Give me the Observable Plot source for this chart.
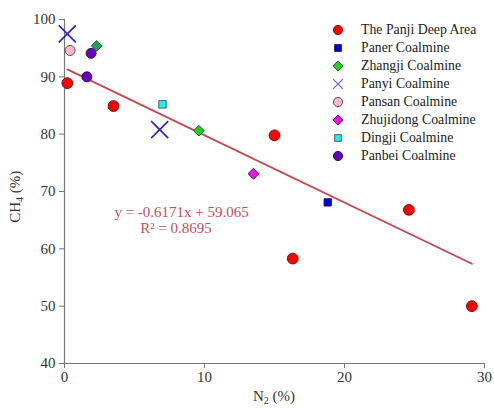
<!DOCTYPE html>
<html>
<head>
<meta charset="utf-8">
<script src="https://cdn.jsdelivr.net/npm/d3@7"></script>
<script src="https://cdn.jsdelivr.net/npm/@observablehq/plot@0.6"></script>
<style>
  html, body { margin: 0; padding: 0; background: #fff; }
  #wrap { position: relative; width: 494px; height: 408px; font-family: "Liberation Serif", "Times New Roman", serif; }
  #legend { position: absolute; left: 330px; top: 21px; font-size: 13.8px; color: #222; font-family: "Liberation Serif", serif; }
  #legend .row { display: flex; align-items: center; height: 18px; }
  #legend svg { width: 16px; height: 16px; margin-right: 15px; }
</style>
</head>
<body>
<div id="wrap"></div>
<script>
// ---- data ----
const seriesNames = ["The Panji Deep Area", "Paner Coalmine", "Zhangji Coalmine", "Panyi Coalmine",
  "Pansan Coalmine", "Zhujidong Coalmine", "Dingji Coalmine", "Panbei Coalmine"];
const panjiN2 = [0.2, 3.5, 15.0, 16.3, 24.6, 29.1];
const panjiCH4 = [88.9, 84.9, 79.8, 58.3, 66.8, 50.0];
const panerN2 = [18.8];
const panerCH4 = [68.1];
const zhangjiN2 = [2.3, 9.6];
const zhangjiCH4 = [95.4, 80.6];
const panyiN2 = [0.2, 6.8];
const panyiCH4 = [97.5, 80.8];
const pansanN2 = [0.4];
const pansanCH4 = [94.6];
const zhujidongN2 = [13.5];
const zhujidongCH4 = [73.1];
const dingjiN2 = [7.0];
const dingjiCH4 = [85.2];
const panbeiN2 = [1.6, 1.9];
const panbeiCH4 = [90.0, 94.1];
const trendN2 = [0.2, 29.1];
const trendCH4 = [91.3, 57.4];
const xTicks = [0, 10, 20, 30];
const yTicks = [40, 50, 60, 70, 80, 90, 100];
const equationText = "y = -0.6171x + 59.065";
const r2Text = "R² = 0.8695";

// styles per series
const styles = {
  "The Panji Deep Area": {symbol: "circle", fill: "#ff0000", stroke: "#7a1010", r: 5.4},
  "Paner Coalmine": {symbol: "square", fill: "#0000ee", stroke: "#1a1a6a", r: 4.1},
  "Zhangji Coalmine": {symbol: "diamond2", fill: "#22cc22", stroke: "#1d5a1d", r: 4.8},
  "Panyi Coalmine": {symbol: "times", fill: "none", stroke: "#2323c8", r: 7.8},
  "Pansan Coalmine": {symbol: "circle", fill: "#f7b8c8", stroke: "#6a4a50", r: 5},
  "Zhujidong Coalmine": {symbol: "diamond2", fill: "#ee11ee", stroke: "#4a1a4a", r: 4.9},
  "Dingji Coalmine": {symbol: "square", fill: "#22eeee", stroke: "#3a6a6a", r: 4.2},
  "Panbei Coalmine": {symbol: "circle", fill: "#6a00b8", stroke: "#2a1a4a", r: 5}
};

const seriesData = [
  [panjiN2, panjiCH4], [panerN2, panerCH4], [zhangjiN2, zhangjiCH4], [panyiN2, panyiCH4],
  [pansanN2, pansanCH4], [zhujidongN2, zhujidongCH4], [dingjiN2, dingjiCH4], [panbeiN2, panbeiCH4]
];
const points = [];
seriesNames.forEach((name, i) => {
  const [xs, ys] = seriesData[i];
  xs.forEach((x, j) => points.push({name, x, y: ys[j]}));
});
// the upper Zhangji point is drawn in a darker green in the reference
const zhangjiFills = ["#22a05a", "#22cc22"];
let zi = 0;
points.forEach(p => { p.fill = p.name === "Zhangji Coalmine" ? zhangjiFills[zi++] : styles[p.name].fill; });

const trend = trendN2.map((x, i) => ({x, y: trendCH4[i]}));

const axisColor = "#777";
const plot = Plot.plot({
  width: 494,
  height: 408,
  marginLeft: 64,
  marginRight: 10,
  marginTop: 19,
  marginBottom: 45,
  style: {fontFamily: "'Liberation Serif', 'Times New Roman', serif", fontSize: "15px", color: "#333", background: "#fff"},
  x: {domain: [0, 30]},
  y: {domain: [40, 100]},
  marks: [
    Plot.axisX({ticks: xTicks, tickSize: 5, tickPadding: 3, label: null, stroke: axisColor, fill: "#333", fontSize: 15}),
    Plot.axisY({ticks: yTicks, tickSize: 5, tickPadding: 4, label: null, stroke: axisColor, fill: "#333", fontSize: 15}),
    Plot.ruleX([0], {stroke: axisColor, strokeWidth: 1.2}),
    Plot.ruleY([40], {stroke: axisColor, strokeWidth: 1.2}),
    Plot.line(trend, {x: "x", y: "y", stroke: "#c8454a", strokeWidth: 1.8}),
    ...seriesNames.map(name => {
      const s = styles[name];
      const pts = points.filter(p => p.name === name);
      return Plot.dot(pts, {x: "x", y: "y", symbol: () => s.symbol, r: s.r,
        fill: s.symbol === "times" ? null : (d => d.fill),
        stroke: s.stroke, strokeWidth: s.symbol === "times" ? 1.6 : 1});
    })
  ]
});

document.getElementById("wrap").appendChild(plot);

// axis titles with subscripts and equation text, positioned via scales
const svg = d3.select(plot);
const xs = plot.scale("x"), ys = plot.scale("y");
const serif = "'Liberation Serif', 'Times New Roman', serif";
const xl = svg.append("text")
  .attr("x", xs.apply(15)).attr("y", 401)
  .attr("text-anchor", "middle").attr("font-family", serif).attr("font-size", 15).attr("fill", "#333");
xl.append("tspan").text("N");
xl.append("tspan").text("2").attr("font-size", 10).attr("dy", 3);
xl.append("tspan").text(" (%)").attr("dy", -3);

const yl = svg.append("text")
  .attr("transform", `translate(20,${ys.apply(69)}) rotate(-90)`)
  .attr("text-anchor", "middle").attr("font-family", serif).attr("font-size", 15).attr("fill", "#333");
yl.append("tspan").text("CH");
yl.append("tspan").text("4").attr("font-size", 10).attr("dy", 3);
yl.append("tspan").text(" (%)").attr("dy", -3);

svg.append("text").attr("x", xs.apply(8.4)).attr("y", ys.apply(65.4)).attr("text-anchor", "middle")
  .attr("font-family", serif).attr("font-size", 15).attr("fill", "#c44f58").text(equationText);
svg.append("text").attr("x", xs.apply(8.0)).attr("y", ys.apply(62.6)).attr("text-anchor", "middle")
  .attr("font-family", serif).attr("font-size", 15).attr("fill", "#c44f58").text(r2Text);

// legend
const legend = document.createElement("div");
legend.id = "legend";
const symMap = {circle: d3.symbolCircle, square: d3.symbolSquare, diamond2: d3.symbolDiamond2, times: d3.symbolTimes};
seriesNames.forEach(name => {
  const s = styles[name];
  const row = document.createElement("div");
  row.className = "row";
  const ls = d3.create("svg").attr("viewBox", "-8 -8 16 16");
  const lr = s.symbol === "times" ? 4.5 : (s.symbol === "square" ? 3.8 : (s.symbol === "diamond2" ? 4.6 : 4.6));
  ls.append("path").attr("d", d3.symbol(symMap[s.symbol], Math.PI * lr * lr)())
    .attr("fill", s.symbol === "times" ? "none" : s.fill)
    .attr("stroke", s.symbol === "times" ? "#6666dd" : s.stroke).attr("stroke-width", s.symbol === "times" ? 1.2 : 1);
  row.appendChild(ls.node());
  const t = document.createElement("span");
  t.textContent = name;
  row.appendChild(t);
  legend.appendChild(row);
});
document.getElementById("wrap").appendChild(legend);
</script>
</body>
</html>
